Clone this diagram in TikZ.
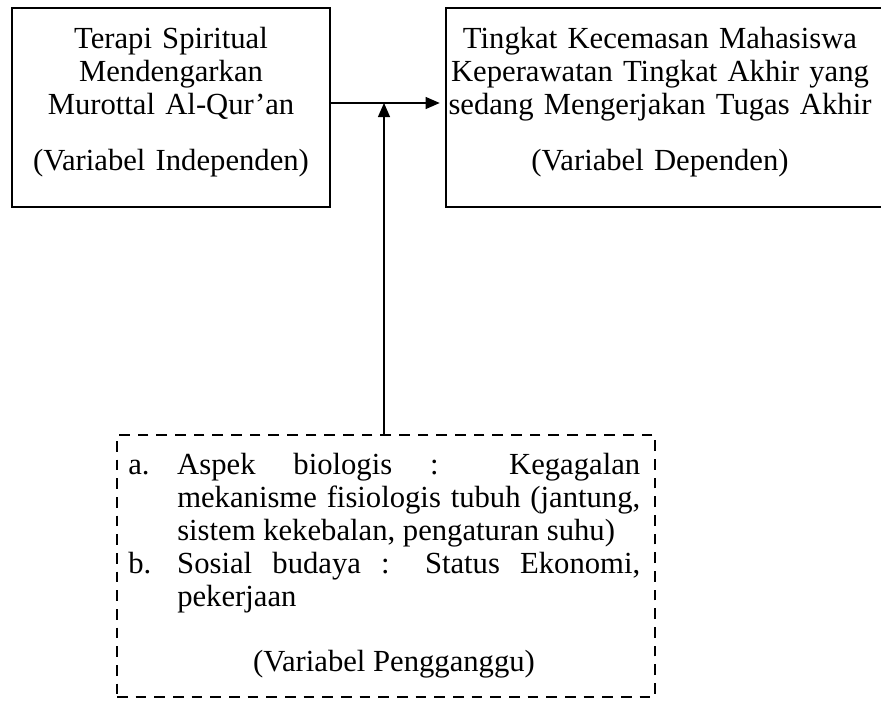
\documentclass[tikz,border=0pt]{standalone}
\usepackage{fontspec}
\setmainfont{Liberation Serif}
\usetikzlibrary{arrows.meta}
\begin{document}
\begin{tikzpicture}[x=0.75pt,y=-0.75pt,
  solidbox/.style={draw, line width=1.5pt, inner sep=0pt},
  dashbox/.style={draw, line width=1.5pt, dash pattern=on 8pt off 6pt, inner sep=0pt},
  txt/.style={font=\fontsize{23pt}{24.75pt}\selectfont, inner sep=0pt, align=center},
  listtxt/.style={font=\fontsize{23pt}{24.75pt}\selectfont, inner sep=0pt, align=justify, text width=384pt},
  arr/.style={line width=0.8pt, -{Triangle[length=10.5pt,width=9pt]}}]
\useasboundingbox (0,0) rectangle (881,700);
\clip (0,0) rectangle (881,700);
% boxes
\node[solidbox, minimum width=238.5pt, minimum height=149.25pt] (iv) at (171,107.5) {};
\node[solidbox, minimum width=332.25pt, minimum height=149.25pt] (dv) at (667.5,107.5) {};
\node[dashbox, minimum width=403.5pt, minimum height=196.5pt] (cv) at (386,566) {};
% texts
\node[txt, text width=236pt, anchor=base] (ivt) at (171,48)
  {Terapi Spiritual\\Mendengarkan\\Murottal Al-Qur’an\\[17.25pt](Variabel Independen)};
\node[txt, text width=326pt, anchor=base] (dvt) at (660,48)
  {Tingkat Kecemasan Mahasiswa\\Keperawatan Tingkat Akhir yang\\sedang Mengerjakan Tugas Akhir\\[17.25pt](Variabel Dependen)};
\node[listtxt, anchor=base west] (cvt) at (128,474)
  {\hyphenpenalty=10000\exhyphenpenalty=10000%
   \hangindent=36.75pt\hangafter=1\noindent\makebox[36.75pt][l]{a.}Aspek biologis : Kegagalan mekanisme fisiologis tubuh (jantung, sistem kekebalan, pengaturan suhu)\par
   \hangindent=36.75pt\hangafter=1\noindent\makebox[36.75pt][l]{b.}Sosial budaya : Status Ekonomi, pekerjaan\par};
\node[txt, anchor=base] (cvl) at (394,671) {(Variabel Pengganggu)};
% connectors
\coordinate (j) at (384,103);
\draw[arr, shorten >=4pt] (iv.east |- j) -- (dv.west |- j);
\draw[arr] (cv.north -| j) -- (j);
\end{tikzpicture}
\end{document}
